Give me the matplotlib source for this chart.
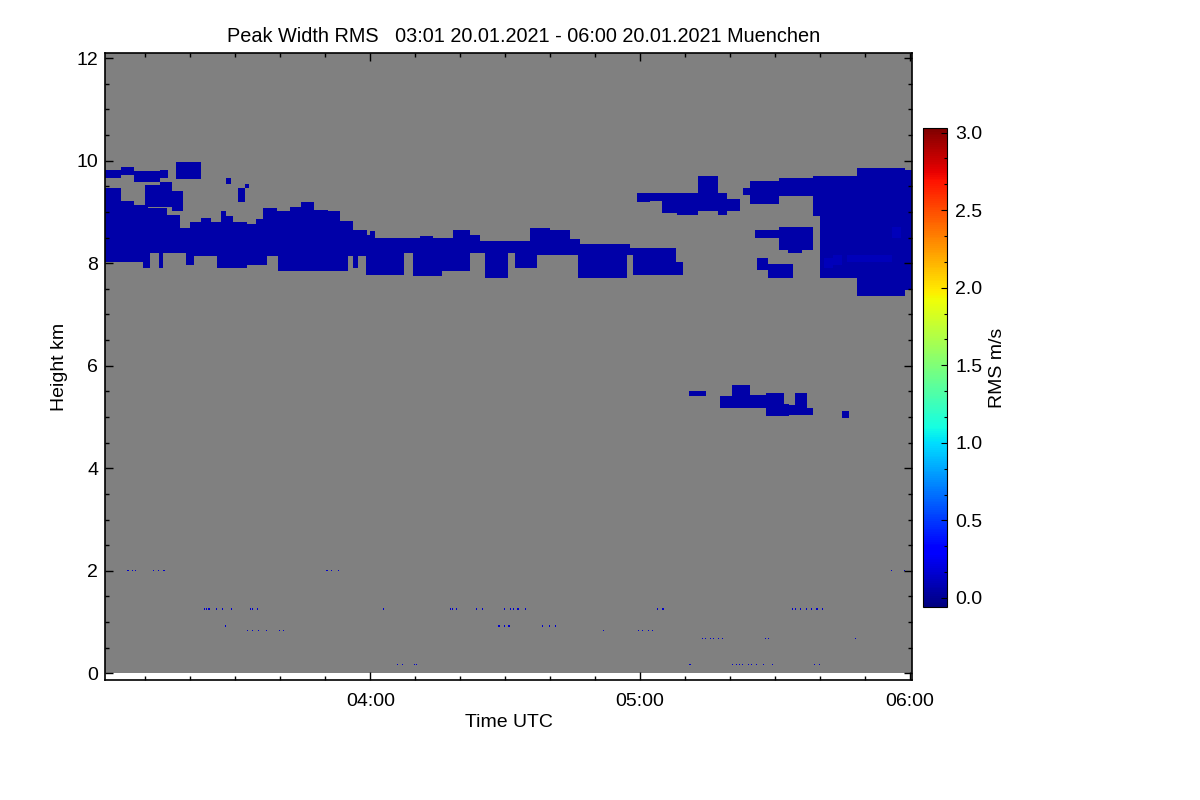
import matplotlib
matplotlib.use("Agg")
import matplotlib.pyplot as plt
import numpy as np
from matplotlib.ticker import FixedLocator, MultipleLocator

plt.rcParams["font.family"] = ["Liberation Sans", "DejaVu Sans"]

# time in minutes after 03:00 UTC, height in km, values in m/s
T_START, T_END = 1.0, 180.5
H_TOP = 12.1

# main cirrus layer near 8 km: top and base as step profiles (edges, heights)
main_top_t = [1.0, 4.4, 7.4, 10.4, 14.8, 17.8, 20.0, 22.2, 24.5, 26.7, 28.0, 29.6, 32.6, 34.5,
              36.3, 39.3, 42.2, 44.4, 47.4, 50.4, 53.3, 56.3, 59.3, 60.0, 61.0, 71.0, 74.0,
              78.5, 82.2, 84.4, 95.6, 100.0, 104.4, 106.7, 117.8, 125.9, 128.0, 129.6]
main_top_h = [9.45, 9.2, 9.13, 9.07, 8.94, 8.68, 8.78, 8.87, 8.8, 9.0, 8.9, 8.78, 8.75, 8.86,
              9.05, 9.0, 9.1, 9.18, 9.03, 9.0, 8.81, 8.64, 8.55, 8.61, 8.48, 8.52, 8.48,
              8.64, 8.55, 8.43, 8.68, 8.64, 8.45, 8.38, 8.29, 8.28, 8.0]
main_base_t = [1.0, 9.6, 11.0, 12.9, 14.0, 18.9, 20.7, 26.0, 32.6, 37.1, 39.6, 54.9, 56.3,
               57.3, 58.9, 67.4, 69.6, 76.0, 82.2, 85.6, 90.7, 92.2, 97.1, 106.2, 117.1,
               118.4, 129.6]
main_base_h = [8.0, 7.9, 8.19, 7.9, 8.19, 7.96, 8.12, 7.9, 7.96, 8.12, 7.83, 8.12, 7.9,
               8.12, 7.78, 8.19, 7.73, 7.83, 8.19, 7.7, 8.19, 7.9, 8.16, 7.7, 8.16, 7.77]

# upper fragments on the left (about 9.6 - 9.9 km)
upper_left_t = [1.1, 4.4, 7.4, 13.3, 15.0, 16.8, 22.2]
upper_left_base = [9.65, 9.72, 9.57, 9.65, np.nan, 9.62]
upper_left_top = [9.82, 9.88, 9.78, 9.82, np.nan, 9.95]

arm_left_t = [10.0, 13.3, 16.0, 18.2]
arm_left_base = [9.1, 9.1, 9.0]
arm_left_top = [9.5, 9.57, 9.4]

bits_left_t = [28.0, 29.0, 30.4, 32.2, 33.0]
bits_left_base = [9.55, np.nan, 9.19, 9.45]
bits_left_top = [9.65, np.nan, 9.46, 9.55]

# upper band on the right (about 9 - 9.7 km)
upper_right_t = [119.3, 122.2, 125.0, 128.2, 133.0, 137.3, 139.3, 142.2, 143.0, 144.5, 151.1, 158.4]
upper_right_base = [9.19, 9.2, 8.98, 8.94, 9.0, 8.94, 8.99, np.nan, 9.33, 9.16, 9.29]
upper_right_top = [9.37, 9.37, 9.37, 9.37, 9.68, 9.37, 9.25, np.nan, 9.46, 9.59, 9.66]

# large cloud mass at the right edge
mass_right_t = [158.4, 160.0, 168.2, 178.9, 180.5]
mass_right_base = [8.9, 7.7, 7.34, 7.47]
mass_right_top = [9.69, 9.69, 9.85, 9.8]

bright_right_t = [161.0, 163.0, 165.0, 166.0, 176.0, 178.0]
bright_right_base = [7.9, 7.95, np.nan, 8.0, 8.5]
bright_right_top = [8.1, 8.15, np.nan, 8.15, 8.7]

arm_right_t = [145.6, 151.1, 153.0, 156.0, 158.4]
arm_right_base = [8.48, 8.25, 8.18, 8.25]
arm_right_top = [8.64, 8.71, 8.71, 8.71]

under_arm_t = [146.0, 148.5, 154.0]
under_arm_base = [7.85, 7.7]
under_arm_top = [8.09, 7.98]

# lower cloud near 5 km
mid_cloud_t = [130.9, 134.8, 137.8, 140.4, 144.4, 148.1, 151.9, 153.3, 154.4, 157.3, 158.4,
               165.0, 166.4]
mid_cloud_base = [5.39, np.nan, 5.15, 5.15, 5.15, 5.0, 5.0, 5.05, 5.05, 5.05, np.nan, 4.99]
mid_cloud_top = [5.5, np.nan, 5.39, 5.62, 5.42, 5.46, 5.26, 5.23, 5.46, 5.17, np.nan, 5.1]

# isolated low returns
dot_t = [6.07, 7.07, 7.93, 12.0, 13.0, 14.1, 50.4, 51.3, 52.8, 175.9, 178.9,
         23.1, 23.6, 24.2, 25.8, 27.1, 29.1, 33.3, 34.0, 34.9, 62.9, 77.9, 78.4, 79.1,
         83.6, 84.9, 90.0, 91.1, 92.0, 92.9, 94.7, 123.8, 125.1, 153.8, 154.7, 155.6,
         157.1, 158.2, 159.3, 160.7,
         27.9, 88.7, 89.8, 90.9, 98.4, 99.8, 101.1,
         32.6, 33.9, 35.1, 36.8, 39.8, 40.7, 111.8, 119.6, 120.7, 121.8, 122.9,
         133.8, 134.7, 135.6, 136.4, 137.3, 138.4, 148.0, 148.7, 167.8,
         66.2, 67.1, 69.8, 70.4, 131.1, 140.7, 141.3, 142.2, 142.9, 144.2, 144.9, 145.8,
         147.3, 149.3, 158.9, 160.0]
dot_h = [2.01] * 11 + [1.24] * 29 + [0.90] * 7 + [0.81] * 11 + [0.69] * 9 + [0.18] * 16

DT, DH = 0.25, 0.03
t_edges = np.arange(T_START, T_END + 1e-9, DT)
t_mid = (t_edges[:-1] + t_edges[1:]) / 2
h_edges = np.arange(0.0, H_TOP + 1e-9, DH)
h_mid = (h_edges[:-1] + h_edges[1:]) / 2
field = np.full((len(h_mid), len(t_mid)), np.nan)


def step(edges, vals):
    out = np.full(t_mid.shape, np.nan)
    for a, b, v in zip(edges[:-1], edges[1:], vals):
        out[(t_mid >= a) & (t_mid < b)] = v
    return out


def add_layer(top_t, top_h, base_t, base_h, value):
    top = step(top_t, top_h)
    base = step(base_t, base_h)
    inside = (h_mid[:, None] >= base[None, :]) & (h_mid[:, None] <= top[None, :])
    field[inside] = value


add_layer(main_top_t, main_top_h, main_base_t, main_base_h, 0.05)
for times, base, top, val in [
    (upper_left_t, upper_left_base, upper_left_top, 0.05),
    (arm_left_t, arm_left_base, arm_left_top, 0.05),
    (bits_left_t, bits_left_base, bits_left_top, 0.05),
    (upper_right_t, upper_right_base, upper_right_top, 0.05),
    (mass_right_t, mass_right_base, mass_right_top, 0.06),
    (bright_right_t, bright_right_base, bright_right_top, 0.1),
    (arm_right_t, arm_right_base, arm_right_top, 0.05),
    (under_arm_t, under_arm_base, under_arm_top, 0.07),
    (mid_cloud_t, mid_cloud_base, mid_cloud_top, 0.05),
]:
    add_layer(times, top, times, base, val)

for t, h in zip(dot_t, dot_h):
    col = np.argmin(np.abs(t_mid - t))
    row = np.argmin(np.abs(h_mid - h))
    field[row, col] = 0.15

cmap = plt.get_cmap("jet").copy()
cmap.set_bad("#808080")

fig = plt.figure(figsize=(12, 8), dpi=100)
ax = fig.add_axes([0.0875, 0.15, 0.6725, 0.78375])
im = ax.imshow(np.ma.masked_invalid(field), cmap=cmap, vmin=-0.06, vmax=3.03,
               origin="lower", aspect="auto", interpolation="none",
               extent=[t_edges[0], t_edges[-1], h_edges[0], h_edges[-1]])
ax.set_xlim(T_START, T_END)
ax.set_ylim(-0.13, H_TOP)

ax.xaxis.set_major_locator(FixedLocator([60, 120, 180]))
ax.set_xticklabels(["04:00", "05:00", "06:00"])
ax.xaxis.set_minor_locator(MultipleLocator(10))
ax.yaxis.set_major_locator(MultipleLocator(2))
ax.yaxis.set_minor_locator(MultipleLocator(0.5))
ax.tick_params(which="both", direction="in", top=True, right=True, labelsize=14, width=1)
ax.tick_params(which="major", length=6)
ax.tick_params(which="minor", length=3)
ax.tick_params(axis="x", pad=9)
ax.tick_params(axis="y", pad=5)
for s in ax.spines.values():
    s.set_linewidth(1.2)

ax.set_xlabel("Time UTC", fontsize=14, labelpad=3)
ax.set_ylabel("Height km", fontsize=14, labelpad=6)
fig.text(0.436, 0.955, "Peak Width RMS   03:01 20.01.2021 - 06:00 20.01.2021 Muenchen",
         ha="center", va="center", fontsize=14.3)

cax = fig.add_axes([0.769, 0.241, 0.02, 0.599])
cb = fig.colorbar(im, cax=cax)
cb.set_ticks(np.arange(0, 3.01, 0.5))
cb.ax.set_yticklabels([f"{v:.1f}" for v in np.arange(0, 3.01, 0.5)])
cb.ax.yaxis.set_minor_locator(FixedLocator(np.arange(0, 3.01, 0.5 / 3)))
cb.ax.tick_params(which="both", direction="in", labelsize=14, width=0.8, pad=6)
cb.ax.tick_params(which="major", length=4)
cb.ax.tick_params(which="minor", length=2)
cb.outline.set_linewidth(0.8)
cb.set_label("RMS m/s", fontsize=14, labelpad=5)

fig.savefig("out.png", dpi=100)
